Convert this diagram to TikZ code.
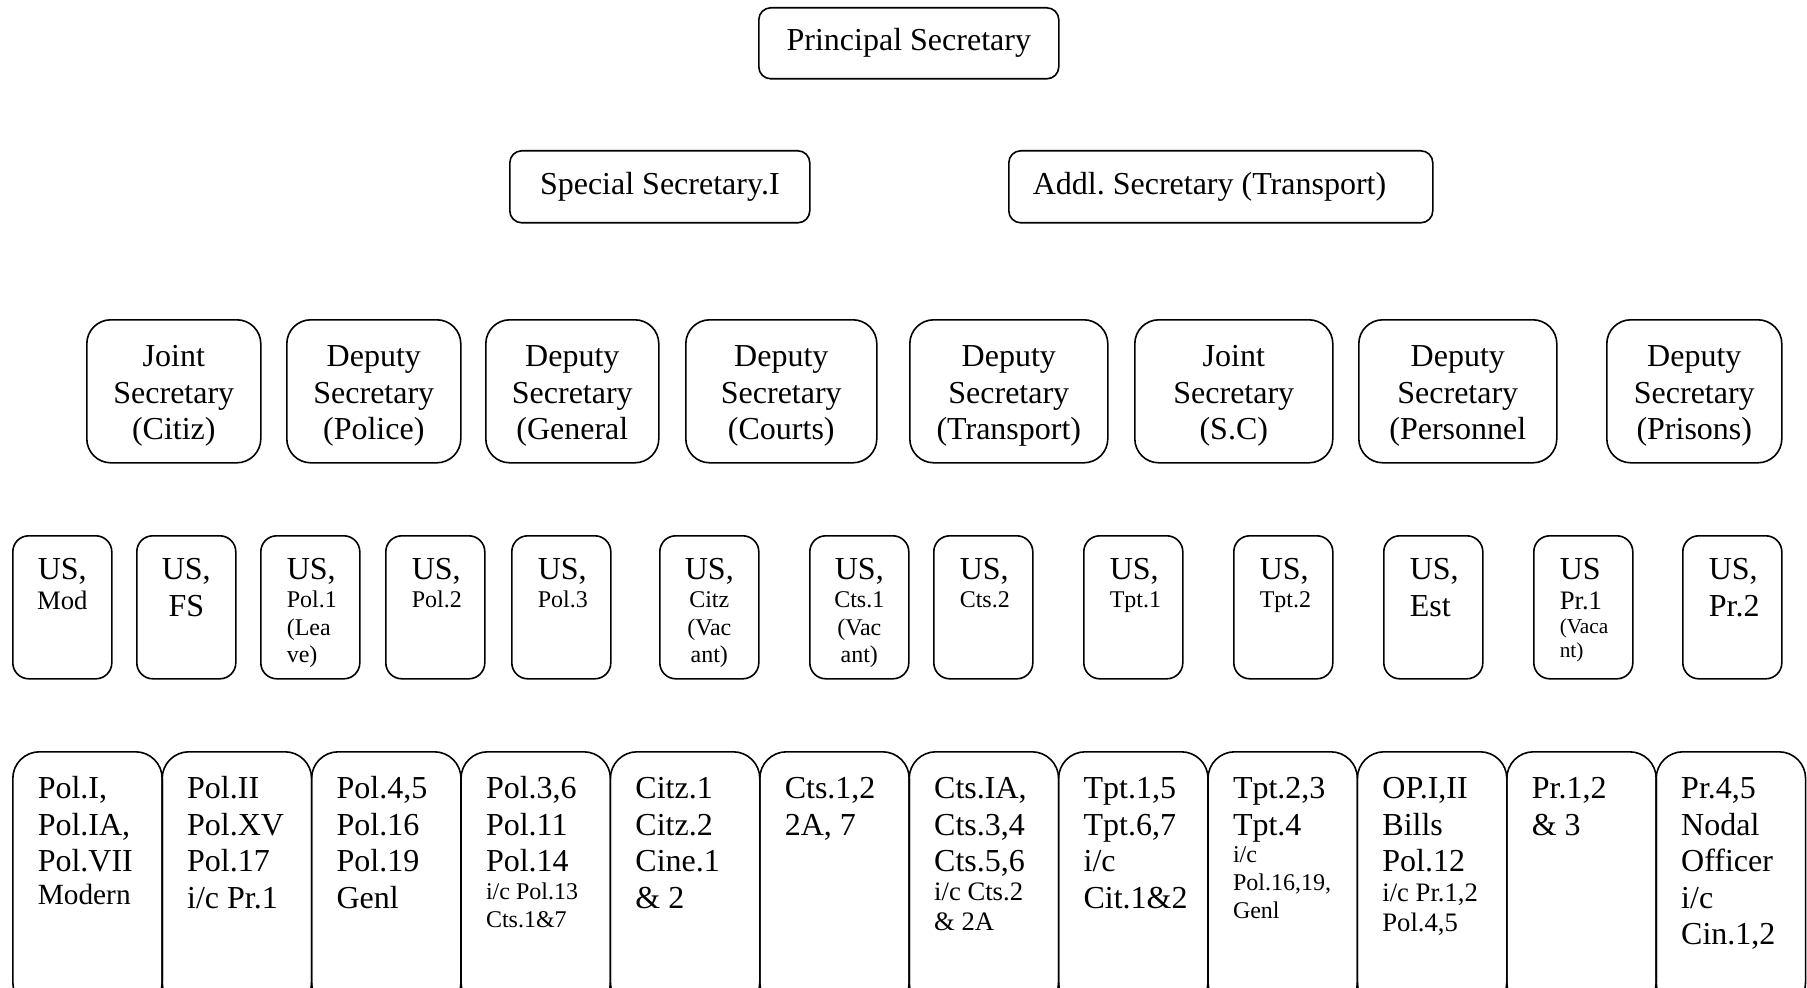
\documentclass[tikz,border=0pt]{standalone}
\usepackage{fontspec}
\setmainfont{Liberation Serif}
\newcommand{\szbig}{\fontsize{24}{27.4}\selectfont}
\newcommand{\szmid}{\fontsize{20}{22.5}\selectfont}
\newcommand{\szsmall}{\fontsize{18}{20.8}\selectfont}
\newcommand{\sztiny}{\fontsize{16}{18}\selectfont}
\begin{document}
\frenchspacing
\begin{tikzpicture}[x=0.75pt,y=0.75pt,yscale=-1,xscale=1,
  headbox/.style={draw, line width=1.2pt, rounded corners=9pt, anchor=north west, inner sep=0pt, align=center, font=\szbig},
  offbox/.style={draw, line width=1.2pt, rounded corners=18pt, anchor=north west, inner xsep=4pt, inner ysep=0pt, text height=35.25pt, text depth=72pt, align=flush center, font=\szbig},
  usbox/.style={draw, line width=1.2pt, rounded corners=12pt, anchor=north west, inner xsep=19.5pt, inner ysep=0pt, text width=35.25pt, text height=32.8pt, text depth=74.45pt, align=flush left, font=\szbig},
  uscbox/.style={usbox, inner xsep=8pt, text width=58.25pt, align=flush center},
  secbox/.style={draw, line width=1.2pt, rounded corners=20pt, anchor=north west, inner xsep=18.75pt, inner ysep=0pt, text width=74.55pt, text height=35pt, text depth=157.75pt, align=flush left, font=\szbig}]
\useasboundingbox (0,0) rectangle (1807,988);
\clip (0,0) rectangle (1807,988);

%Top levels
\node[headbox, minimum width=225pt, minimum height=53.25pt] (ps) at (758,7) {Principal Secretary};
\node[headbox, minimum width=225pt, minimum height=54pt] (ss1) at (509,150) {Special Secretary.I};
\node[headbox, minimum height=54pt, inner xsep=18pt, text width=282pt, align=flush left] (adsec) at (1008,150) {Addl. Secretary (Transport)};

%Joint / Deputy Secretaries
\node[offbox, text width=122.5pt] (jscitiz) at (86,319) {Joint\\Secretary\\(Citiz)};
\node[offbox, text width=122.5pt] (dspolice) at (286,319) {Deputy\\Secretary\\(Police)};
\node[offbox, text width=121.75pt] (dsgeneral) at (485,319) {Deputy\\Secretary\\(General};
\node[offbox, text width=135.25pt] (dscourts) at (685,319) {Deputy\\Secretary\\(Courts)};
\node[offbox, text width=140.5pt] (dstransport) at (909,319) {Deputy\\Secretary\\(Transport)};
\node[offbox, text width=140.5pt] (jssc) at (1134,319) {Joint\\Secretary\\(S.C)};
\node[offbox, text width=140.5pt] (dspersonnel) at (1358,319) {Deputy\\Secretary\\(Personnel};
\node[offbox, text width=123.25pt] (dsprisons) at (1606,319) {Deputy\\Secretary\\(Prisons)};

%Under Secretaries
\node[uscbox] (usmod) at (12,535) {US,\par\szmid Mod\par};
\node[uscbox] (usfs) at (136,535) {US,\\FS};
\node[usbox] (uspol1) at (260,535) {US,\par\szsmall Pol.1\\(Lea\\ve)\par};
\node[usbox] (uspol2) at (385,535) {US,\par\szsmall Pol.2\par};
\node[usbox] (uspol3) at (511,535) {US,\par\szsmall Pol.3\par};
\node[uscbox] (uscitz) at (659,535) {US,\par\szsmall Citz\\(Vac\\ant)\par};
\node[uscbox] (uscts1) at (809,535) {US,\par\szsmall Cts.1\\(Vac\\ant)\par};
\node[usbox] (uscts2) at (933,535) {US,\par\szsmall Cts.2\par};
\node[usbox] (ustpt1) at (1083,535) {US,\par\szsmall Tpt.1\par};
\node[usbox] (ustpt2) at (1233,535) {US,\par\szsmall Tpt.2\par};
\node[usbox] (usest) at (1383,535) {US,\\Est};
\node[usbox] (uspr1) at (1533,535) {US\par\szmid Pr.1\par\sztiny (Vaca\\nt)\par};
\node[usbox] (uspr2) at (1682,535) {US,\\Pr.2};

%Sections
\node[secbox] (secpol) at (12,751) {Pol.I,\\Pol.IA,\\Pol.VII\par\fontsize{22}{25}\selectfont Modern\par};
\node[secbox] (secpolii) at (161.4,751) {Pol.II\\Pol.XV\\Pol.17\\i/c~Pr.1};
\node[secbox] (secpolfour) at (310.8,751) {Pol.4,5\\Pol.16\\Pol.19\\Genl};
\node[secbox] (secpolthree) at (460.2,751) {Pol.3,6\\Pol.11\\Pol.14\par\szsmall i/c~Pol.13\\Cts.1\&7\par};
\node[secbox] (seccitz) at (609.6,751) {Citz.1\\Citz.2\\Cine.1\\\&~2};
\node[secbox] (secctsone) at (759,751) {Cts.1,2\\2A,~7};
\node[secbox] (secctsia) at (908.4,751) {Cts.IA,\\Cts.3,4\\Cts.5,6\par\fontsize{20}{22}\selectfont i/c~Cts.2\\\&~2A\par};
\node[secbox] (sectptone) at (1057.8,751) {Tpt.1,5\\Tpt.6,7\\i/c\\Cit.1\&2};
\node[secbox] (sectpttwo) at (1207.2,751) {Tpt.2,3\\Tpt.4\par\szsmall i/c\\Pol.16,19,\\Genl\par};
\node[secbox] (secop) at (1356.6,751) {OP.I,II\\Bills\\Pol.12\par\szmid i/c~Pr.1,2\\Pol.4,5\par};
\node[secbox] (secprone) at (1506,751) {Pr.1,2\\\&~3};
\node[secbox] (secprfour) at (1655.4,751) {Pr.4,5\\Nodal\\Officer\\i/c\\Cin.1,2};

\end{tikzpicture}
\end{document}
